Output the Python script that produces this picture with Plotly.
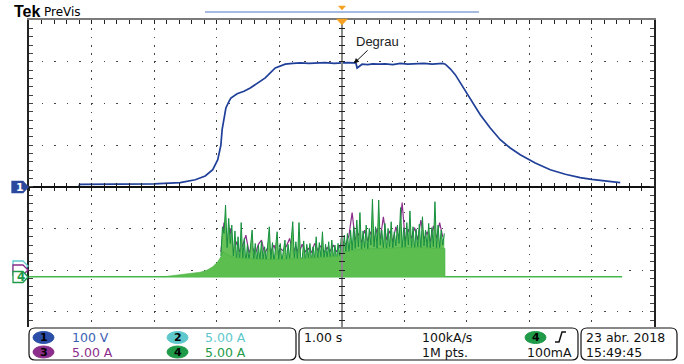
import plotly.graph_objects as go

# ---------------- data ----------------
# Channel 1 (blue) voltage, V  vs time, s
ch1_t = [-5.0, -4.2, -4.19, -3.6, -3.0, -2.58, -2.34, -2.18, -2.06, -1.98, -1.93, -1.91, -1.88,
         -1.85, -1.80, -1.77, -1.67, -1.56, -1.46, -1.34, -1.22, -1.06, -0.90, -0.78, -0.66,
         -0.52, -0.40, -0.26, -0.12, -0.02, 0.10, 0.20, 0.23, 0.25, 0.29, 0.33, 0.42, 0.50,
         0.60, 0.70, 0.82, 0.94, 1.06, 1.20, 1.32, 1.45, 1.55, 1.62, 1.66, 1.74, 1.82, 1.90,
         2.00, 2.10, 2.22, 2.38, 2.54, 2.70, 2.86, 3.10, 3.34, 3.58, 3.82, 4.00, 4.20, 4.46]
ch1_v = [0, 0, 6, 6, 7, 10, 17, 26, 41, 65, 100, 137, 165,
         189, 205, 213, 223, 229, 237, 249, 261, 285, 294, 296, 297,
         296, 297, 298, 296, 297, 298, 297, 297, 285, 290, 294, 293, 295,
         294, 295, 293, 296, 294, 295, 296, 294, 296, 296, 294, 283, 269, 250,
         225, 200, 173, 141, 113, 93, 77, 57, 41, 30, 22, 18, 14, 10]

# Channel 4 (green) current samples, A (sampled from t0 every dt)
ch4_t0, ch4_dt = -1.93, 0.025
ch4_i = [2.5, 6.0, 5.2, 8.6, 3.5, 7.0, 4.0, 6.2,
         2.5, 5.5, 2.0, 4.8, 1.8, 6.5, 2.2, 4.6,
         1.6, 3.9, 1.9, 4.2, 5.6, 2.0, 4.0, 1.7,
         3.8, 1.9, 4.3, 2.1, 3.6, 1.8, 4.5, 6.0,
         2.0, 4.1, 1.7, 3.7, 5.4, 2.1, 4.0, 1.8,
         3.5, 4.4, 1.9, 3.9, 2.2, 4.6, 6.6, 2.3,
         4.2, 2.0, 6.5, 2.4, 2.0, 4.3, 1.8, 3.9,
         2.3, 4.0, 1.9, 3.6, 2.1, 4.8, 2.0, 4.1,
         2.4, 5.4, 2.0, 3.9, 2.2, 4.2, 2.0, 4.4,
         2.2, 3.8, 2.0, 4.0, 2.5, 4.6, 2.8, 5.0,
         3.0, 5.2, 2.8, 5.6, 3.2, 6.0, 3.4, 6.8,
         3.6, 7.7, 3.2, 5.5, 3.5, 6.2, 3.3, 5.8,
         3.8, 9.3, 3.6, 6.0, 3.4, 9.2, 3.8, 5.6,
         3.5, 6.4, 3.2, 5.8, 3.6, 6.6, 3.3, 5.4,
         3.7, 6.2, 4.0, 8.3, 3.4, 5.9, 3.6, 6.5,
         3.8, 7.9, 3.5, 6.0, 3.3, 5.7, 3.6, 6.3,
         3.4, 7.2, 3.7, 5.6, 3.5, 6.4, 3.3, 5.9,
         3.6, 9.0, 3.4, 6.2, 3.5, 5.6, 3.8, 5.2]

# Channel 3 (purple) current samples, A
ch3_t0, ch3_dt = -1.93, 0.05
ch3_i = [3.0, 6.5, 4.0, 5.8, 2.8, 4.2, 3.0, 3.8,
         5.0, 2.9, 3.6, 2.7, 3.9, 4.4, 2.8, 3.5,
         3.0, 3.8, 2.6, 3.4, 3.1, 3.7, 4.6, 2.9,
         3.6, 2.8, 3.9, 3.0, 3.4, 2.9, 4.0, 3.2,
         3.7, 2.9, 3.5, 3.1, 3.8, 3.0, 3.6, 4.2,
         3.9, 5.0, 7.7, 4.4, 5.2, 4.1, 5.6, 4.3,
         5.4, 4.2, 5.8, 4.5, 7.2, 4.4, 5.5, 4.2,
         6.0, 4.5, 8.9, 4.3, 5.7, 4.6, 5.9, 4.4,
         6.8, 4.5, 5.4, 4.2, 6.1, 4.6, 6.5, 4.8]

# Channel 4 dense body envelope, A
body_t = [-2.85, -2.58, -2.42, -2.26, -2.15, -2.06, -1.98, -1.93, -1.90, -1.85, -1.78, -1.70,
          -1.54, -1.30, -0.98, -0.66, -0.34, -0.02, 0.06, 0.30, 0.62, 0.94, 1.26, 1.58, 1.655, 1.656]
body_i = [0.0, 0.25, 0.35, 0.55, 0.8, 1.2, 1.8, 2.4, 3.0, 2.8, 2.5, 2.3,
          2.2, 2.1, 2.1, 2.2, 2.3, 2.5, 3.0, 3.3, 3.4, 3.5, 3.5, 3.4, 3.4, 0.0]

# record extent (idle current)
base_t = [-5.0, 4.49]
base_i = [0.0, 0.0]

# scope settings
V_DIV, A_DIV = 100, 5
CH1_POS, CH4_POS = 0.0, -2.158
DIV_TOP, DIV_BOT = 4.0, -3.362

readout_a = [("1", "100 V"), ("2", "5.00 A"), ("3", "5.00 A"), ("4", "5.00 A")]
timebase = "1.00 s"
samplerate = "100kA/s"
points = "1M pts."
trig_level = "100mA"
date_txt = "23 abr. 2018"
time_txt = "15:49:45"

# ---------------- styles ----------------
C_BLUE = "#1f3f99"
C1_TXT = "#3a5fb5"
C2 = "#5ec8cc"
C3 = "#8b2d8b"
C4 = "#1e9a48"
FONT = "DejaVu Sans"

W, H = 684, 364
PL, PT, PW, PH = 29, 20, 625, 307


def px(x):
    return (x - PL) / PW


def py(y):
    return (PT + PH - y) / PH


fig = go.Figure()

# channel 1
fig.add_trace(go.Scatter(x=ch1_t, y=ch1_v, mode="lines", line=dict(color=C_BLUE, width=1.7),
                         xaxis="x", yaxis="y", hoverinfo="skip"))

# currents
ch3_t = [ch3_t0 + k * ch3_dt for k in range(len(ch3_i))]
ch4_t = [ch4_t0 + k * ch4_dt for k in range(len(ch4_i))]
fig.add_trace(go.Scatter(x=base_t, y=base_i, mode="lines", line=dict(color="#45b84a", width=1.6),
                         xaxis="x", yaxis="y4", hoverinfo="skip"))
fig.add_trace(go.Scatter(x=ch3_t, y=ch3_i, mode="lines", line=dict(color=C3, width=1.2),
                         xaxis="x", yaxis="y4", hoverinfo="skip"))
fig.add_trace(go.Scatter(x=ch4_t, y=ch4_i, mode="lines", fill="tozeroy",
                         fillcolor="rgba(95,192,80,0.95)", line=dict(color="#16903e", width=1.0),
                         xaxis="x", yaxis="y4", hoverinfo="skip"))
fig.add_trace(go.Scatter(x=body_t, y=body_i, mode="lines", fill="tozeroy",
                         fillcolor="rgb(92,190,78)", line=dict(color="rgb(70,178,70)", width=0.6),
                         xaxis="x", yaxis="y4", hoverinfo="skip"))

# dummy traces to build centre-axis overlays
fig.add_trace(go.Scatter(x=[None], y=[None], xaxis="x2", yaxis="y2", hoverinfo="skip"))
fig.add_trace(go.Scatter(x=[None], y=[None], xaxis="x3", yaxis="y3", hoverinfo="skip"))

yr1 = [(DIV_BOT - CH1_POS) * V_DIV, (DIV_TOP - CH1_POS) * V_DIV]
yr4 = [(DIV_BOT - CH4_POS) * A_DIV, (DIV_TOP - CH4_POS) * A_DIV]
cy = (0 - DIV_BOT) / (DIV_TOP - DIV_BOT)

common_x = dict(range=[-5, 5], showticklabels=False, zeroline=False, fixedrange=True)
common_y = dict(range=yr1, showticklabels=False, zeroline=False, fixedrange=True)

fig.update_layout(
    template="none",
    width=W, height=H, margin=dict(l=PL, r=W - PL - PW, t=PT, b=H - PT - PH),
    paper_bgcolor="white", plot_bgcolor="white", showlegend=False,
    xaxis=dict(**common_x, side="top", tickmode="linear", tick0=0, dtick=1, showgrid=True,
               gridcolor="#444", gridwidth=1, griddash="1.5px,6.84px",
               showline=True, linecolor="#7a7a7a", linewidth=2,
               ticks="inside", ticklen=4, tickwidth=1.3, tickcolor="#222",
               minor=dict(tickmode="linear", dtick=0.2, ticks="inside", ticklen=4, tickwidth=1.3,
                          tickcolor="#222", showgrid=False)),
    yaxis=dict(**common_y, tickmode="linear", tick0=0, dtick=100, showgrid=True, gridcolor="#444",
               gridwidth=1, griddash="1.5px,11px", showline=True, linecolor="#222", linewidth=1.6,
               mirror="allticks", ticks="inside", ticklen=4, tickwidth=1.3, tickcolor="#444",
               minor=dict(tickmode="linear", dtick=20, ticks="inside", ticklen=4, tickwidth=1.3,
                          tickcolor="#444", showgrid=False)),
    yaxis4=dict(range=yr4, overlaying="y", visible=False, fixedrange=True),
    xaxis2=dict(**common_x, overlaying="x", anchor="free", position=cy, showgrid=False,
                showline=True, linecolor="#111", linewidth=1.5, ticks="inside", ticklen=3,
                tickwidth=1.3, tickcolor="#222", tickmode="linear", tick0=0, dtick=0.2),
    xaxis3=dict(**common_x, overlaying="x", anchor="free", position=cy, showgrid=False,
                showline=False, ticks="outside", ticklen=3, tickwidth=1.3, tickcolor="#222",
                tickmode="linear", tick0=0, dtick=0.2),
    yaxis2=dict(**common_y, overlaying="y", anchor="free", position=0.5, showgrid=False,
                showline=True, linecolor="#8a8a8a", linewidth=1.5, ticks="inside", ticklen=3,
                tickwidth=1.3, tickcolor="#222", tickmode="linear", tick0=0, dtick=20),
    yaxis3=dict(**common_y, overlaying="y", anchor="free", position=0.5, showgrid=False,
                showline=False, ticks="outside", ticklen=3, tickwidth=1.3, tickcolor="#222",
                tickmode="linear", tick0=0, dtick=20),
)

shapes = []
ann = []


def rrect(x0, y0, x1, y1, r, color="#111", width=1.2):
    p = (f"M {px(x0 + r)},{py(y0)} L {px(x1 - r)},{py(y0)} Q {px(x1)},{py(y0)} {px(x1)},{py(y0 + r)} "
         f"L {px(x1)},{py(y1 - r)} Q {px(x1)},{py(y1)} {px(x1 - r)},{py(y1)} "
         f"L {px(x0 + r)},{py(y1)} Q {px(x0)},{py(y1)} {px(x0)},{py(y1 - r)} "
         f"L {px(x0)},{py(y0 + r)} Q {px(x0)},{py(y0)} {px(x0 + r)},{py(y0)} Z")
    shapes.append(dict(type="path", xref="paper", yref="paper", path=p,
                       line=dict(color=color, width=width), fillcolor="white"))


def ellipse(x0, y0, x1, y1, color):
    shapes.append(dict(type="circle", xref="paper", yref="paper", x0=px(x0), x1=px(x1),
                       y0=py(y1), y1=py(y0), line=dict(color=color, width=1), fillcolor=color))


def text(x, y, s, color="#111", size=12, anchor="left", family=FONT, bold=False):
    if bold:
        s = f"<b>{s}</b>"
    ann.append(dict(xref="paper", yref="paper", x=px(x), y=py(y), text=s, showarrow=False,
                    xanchor=anchor, yanchor="middle", font=dict(family=family, size=size, color=color)))


def pentagon(x0, x1, yc, h, line_color, fill):
    p = (f"M {px(x0)},{py(yc - h / 2)} L {px(x1 - 5)},{py(yc - h / 2)} L {px(x1)},{py(yc)} "
         f"L {px(x1 - 5)},{py(yc + h / 2)} L {px(x0)},{py(yc + h / 2)} Z")
    shapes.append(dict(type="path", xref="paper", yref="paper", path=p,
                       line=dict(color=line_color, width=1.3), fillcolor=fill))


# header
text(12, 12, "Tek", "#000", 16, family="Liberation Sans", bold=True)
text(42, 12.5, "PreVis", "#000", 12, family=FONT)
shapes.append(dict(type="line", xref="paper", yref="paper", x0=px(205), x1=px(479), y0=py(12), y1=py(12),
                   line=dict(color="#8aa4d6", width=1.5)))
shapes.append(dict(type="path", xref="paper", yref="paper",
                   path=f"M {px(338.5)},{py(6)} L {px(345.5)},{py(6)} L {px(342)},{py(10)} Z",
                   line=dict(color="#f5a020", width=0.5), fillcolor="#f5a020"))
shapes.append(dict(type="path", xref="paper", yref="paper",
                   path=f"M {px(336.5)},{py(19)} L {px(347.5)},{py(19)} L {px(342)},{py(25)} Z",
                   line=dict(color="#f5a020", width=0.5), fillcolor="#f5a020"))

# channel markers at left
pentagon(13, 28, 266, 10, C2, "white")
pentagon(13, 28, 270, 10, C3, "white")
pentagon(13, 28, 277, 11, C4, "white")
text(20.5, 277, "4", C4, 12, anchor="center", bold=True)
pentagon(12, 28, 187, 11, "#2b4a9e", "#2b4a9e")
text(20, 187, "1", "white", 11, anchor="center", bold=True)

# readout panel
rrect(29, 328, 296, 360, 6)
rrect(299, 328, 578, 360, 6)
rrect(581, 328, 677, 360, 6)

r1, r2 = 337.5, 352
ch_cols = [("#2b4fa8", C1_TXT), (C2, C2), (C3, C3), (C4, C4)]
slots = [(33, 70, r1), (167, 203, r1), (33, 70, r2), (167, 203, r2)]
for (num, val), (fillc, tc), (ex, tx, ry) in zip(readout_a, ch_cols, slots):
    ellipse(ex, ry - 6, ex + 21, ry + 6, fillc)
    text(ex + 10.5, ry, num, "#000", 11, anchor="center", bold=True)
    text(tx, ry, val, tc, 12.5)

text(302, r1, timebase, "#111", 12.5)
text(420, r1, samplerate, "#111", 12.5)
text(420, r2, points, "#111", 12.5)
ellipse(525, r1 - 6, 546, r1 + 6, C4)
text(535.5, r1, "4", "#000", 11, anchor="center", bold=True)
shapes.append(dict(type="path", xref="paper", yref="paper",
                   path=f"M {px(555)},{py(342)} L {px(559)},{py(342)} L {px(562)},{py(332)} L {px(566)},{py(332)}",
                   line=dict(color="#111", width=1.5)))
text(574, r2, trig_level, "#111", 12.5, anchor="right")
text(584, r1, date_txt, "#111", 12.5)
text(584, r2, time_txt, "#111", 12.5)

# Degrau annotation
ann.append(dict(x=0.2, y=296, xref="x", yref="y", text="Degrau", showarrow=True,
                ax=23, ay=-22, arrowhead=2, arrowsize=1, arrowwidth=1, arrowcolor="#111",
                font=dict(family="Liberation Sans", size=13, color="#222")))

fig.update_layout(shapes=shapes, annotations=ann)
fig.write_html("out.html")
